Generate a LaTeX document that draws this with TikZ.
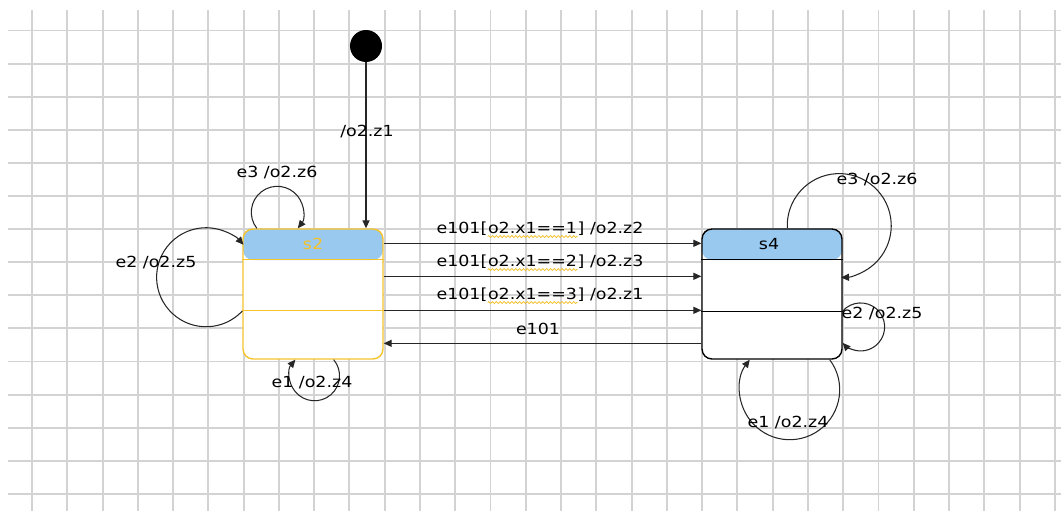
\documentclass[tikz,border=0pt]{standalone}
\usepackage{fontspec}
\setmainfont[FakeStretch=1.14]{DejaVu Sans}
\usetikzlibrary{calc,arrows.meta,decorations.pathmorphing}

\definecolor{gridgray}{HTML}{D3D3D3}
\definecolor{stategold}{HTML}{F5C32C}
\definecolor{headblue}{HTML}{99C9EF}
\definecolor{squiggle}{HTML}{F2BE22}

% yellow wavy underline (spell checker marks)
\newcommand\wavy[1]{\tikz[baseline=(w.base)]{\node[inner sep=0pt] (w) {#1};
  \draw[squiggle, line width=0.4pt, decorate, decoration={zigzag, amplitude=0.55pt, segment length=2.2pt}]
    ([yshift=-1.6pt]w.base west) -- ([yshift=-1.6pt]w.base east);}}

\tikzset{
  gridline/.style={draw=gridgray, line width=1.1pt},
  initial/.style={circle, fill=black, minimum size=0.64cm, inner sep=0pt},
  state/.style={rectangle, rounded corners=0.2cm, minimum width=2.8cm, minimum height=2.6cm,
    line width=0.8pt, fill=white,
    path picture={\fill[headblue] (path picture bounding box.north west)
      rectangle ([yshift=-0.62cm]path picture bounding box.north east);}},
  lbl/.style={font=\fontsize{8.7}{10}\selectfont, inner sep=1pt},
  trans/.style={draw=black!85, line width=0.6pt, -{Triangle[length=4.5pt,width=4pt]}},
}

\begin{document}
\begin{tikzpicture}[x=0.02cm,y=-0.02cm]

% --- Canvas: 1061 x 511 px, one unit = one pixel (y downwards) ---
\useasboundingbox (0,0) rectangle (1061,511);

% --- Background grid ---
\foreach \i in {0,...,29} {
  \draw[gridline] ({32+35.27*\i},10) -- ({32+35.27*\i},511);
}
\foreach \j in {0,...,14} {
  \draw[gridline] (8,{30.5+33.1*\j}) -- (1061,{30.5+33.1*\j});
}

% --- States ---
\node[initial] (init) at (366,46) {};
\node[state, draw=stategold] (s2) at (313,294) {};
\node[state, draw=black] (s4) at (772,294) {};

% header bottom lines and compartment dividers
\draw[stategold, line width=0.8pt] ($(s2.north west)+(0,31)$) -- ($(s2.north east)+(0,31)$);
\draw[stategold, line width=0.8pt] ($(s2.north west)+(0,82)$) -- ($(s2.north east)+(0,82)$);
\draw[black, line width=0.6pt] ($(s4.north west)+(0,31)$) -- ($(s4.north east)+(0,31)$);
\draw[black, line width=0.6pt] ($(s4.north west)+(0,83)$) -- ($(s4.north east)+(0,83)$);

\node[lbl, text=stategold] (s2name) at ($(s2.north)+(0,16)$) {s2};
\node[lbl] (s4name) at ($(s4.north)+(-3,16)$) {s4};

% --- Initial transition ---
\draw[trans] (init) -- (init |- s2.north);
\node[lbl] (initlbl) at (367,132) {/o2.z1};

% --- Transitions between s2 and s4 ---
\draw[trans] ($(s2.north east)+(0,15)$) -- ($(s4.north west)+(0,15)$);
\draw[trans] ($(s2.north east)+(0,48)$) -- ($(s4.north west)+(0,48)$);
\draw[trans] ($(s2.north east)+(0,82)$) -- ($(s4.north west)+(0,82)$);
\draw[trans] ($(s4.north west)+(0,115)$) -- ($(s2.north east)+(0,115)$);

\node[lbl] (t1) at (540,230) {e101[\wavy{o2.x1==1}] /o2.z2};
\node[lbl] (t2) at (540,263) {e101[\wavy{o2.x1==2}] /o2.z3};
\node[lbl] (t3) at (540,296) {e101[\wavy{o2.x1==3}] /o2.z1};
\node[lbl] (t4) at (538,329) {e101};

% --- Self loops on s2 ---
\draw[trans] ($(s2.north west)+(14.5,0)$) arc[start angle=142, end angle=398, radius=26];
\draw[trans] ($(s2.west)+(0,17)$) arc[start angle=43, end angle=319, radius=49.5];
\draw[trans] ($(s2.south east)+(-50,0)$) arc[start angle=320, end angle=580, radius=25];

\node[lbl] (s2e3) at (277,173) {e3 /o2.z6};
\node[lbl] (s2e2) at (156,263) {e2 /o2.z5};
\node[lbl] (s2e1) at (312,383) {e1 /o2.z4};

% --- Self loops on s4 ---
\draw[trans] ($(s4.north west)+(86,0)$) arc[start angle=177, end angle=448, radius=52];
\draw[trans] ($(s4.east)+(0,17)$) arc[start angle=221.6, end angle=498.4, radius=24];
\draw[trans] ($(s4.south east)+(-13,0)$) arc[start angle=323.1, end angle=576.9, radius=50];

\node[lbl] (s4e3) at (877,180) {e3 /o2.z6};
\node[lbl] (s4e2) at (882,314) {e2 /o2.z5};
\node[lbl] (s4e1) at (788,423) {e1 /o2.z4};

\end{tikzpicture}
\end{document}
